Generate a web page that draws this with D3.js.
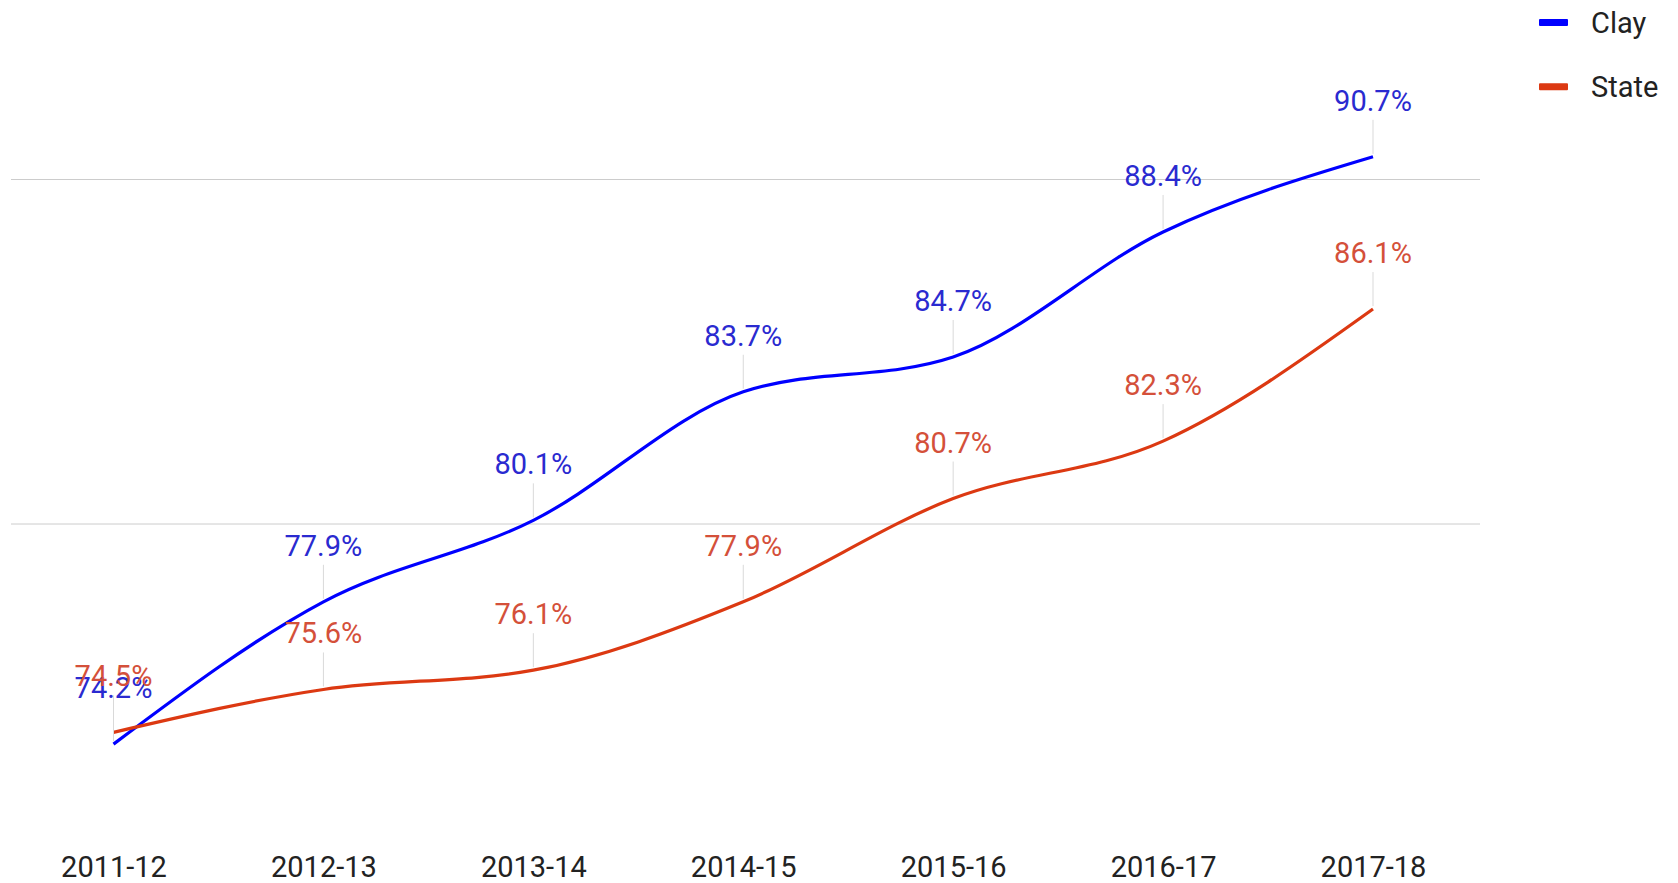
<!DOCTYPE html>
<html>
<head>
<meta charset="utf-8">
<script src="https://cdn.jsdelivr.net/npm/d3@7/dist/d3.min.js"></script>
<style>
  html, body { margin: 0; padding: 0; background: #fff; }
  svg { display: block; font-family: Roboto, "Noto Sans", sans-serif; }
</style>
</head>
<body>
<svg id="chart" width="1678" height="883"></svg>
<script>
const categories = ["2011-12", "2012-13", "2013-14", "2014-15", "2015-16", "2016-17", "2017-18"];
const clayValues = [74.2, 77.9, 80.1, 83.7, 84.7, 88.4, 90.7];
const stateValues = [74.5, 75.6, 76.1, 77.9, 80.7, 82.3, 86.1];
const seriesNames = ["Clay", "State"];
const seriesColors = ["#0000ff", "#dc3912"];
const labelColors = ["#2a2ad0", "#d4503a"];
const gridTicks = [80, 90];

const series = [
  { name: seriesNames[0], values: clayValues, color: seriesColors[0], label: labelColors[0] },
  { name: seriesNames[1], values: stateValues, color: seriesColors[1], label: labelColors[1] }
];

const svg = d3.select("#chart");

const x = d3.scalePoint().domain(categories).range([113.5, 1373]);
const y = d3.scaleLog().domain([80, 90]).range([524, 179.5]);

// gridlines
svg.append("g").selectAll("line").data(gridTicks).join("line")
  .attr("x1", 11).attr("x2", 1480)
  .attr("y1", d => y(d)).attr("y2", d => y(d))
  .attr("stroke", "#cccccc").attr("stroke-width", 1);

// x axis labels
const xAxis = d3.axisBottom(x).tickSize(0).tickPadding(0);
const gx = svg.append("g").attr("transform", "translate(0,856)").call(xAxis);
gx.select(".domain").remove();
gx.selectAll("text")
  .attr("dy", "0.71em")
  .attr("font-size", 29)
  .attr("font-family", "Roboto, sans-serif")
  .attr("fill", "#222222");

const line = d3.line()
  .x((d, i) => x(categories[i]))
  .y(d => y(d))
  .curve(d3.curveMonotoneX);

// lines
series.forEach(s => {
  svg.append("path")
    .datum(s.values)
    .attr("fill", "none")
    .attr("stroke", s.color)
    .attr("stroke-width", 3.2)
    .attr("stroke-linejoin", "round")
    .attr("d", line);
});

// annotations (leader + label)
series.forEach(s => {
  const g = svg.append("g");
  g.selectAll("line").data(s.values).join("line")
    .attr("x1", (d, i) => x(categories[i])).attr("x2", (d, i) => x(categories[i]))
    .attr("y1", d => y(d) - 37).attr("y2", d => y(d) - 3)
    .attr("stroke", "#d9d9d9").attr("stroke-width", 1);
  g.selectAll("text").data(s.values).join("text")
    .attr("x", (d, i) => x(categories[i]))
    .attr("y", d => y(d) - 46)
    .attr("text-anchor", "middle")
    .attr("font-size", 29)
    .attr("fill", s.label)
    .text(d => d.toFixed(1) + "%");
});

// legend
const legend = svg.append("g");
series.forEach((s, i) => {
  const cy = 22.5 + i * 64.2;
  legend.append("rect")
    .attr("x", 1539).attr("y", cy - 3.5)
    .attr("width", 29).attr("height", 7).attr("rx", 1)
    .attr("fill", s.color);
  legend.append("text")
    .attr("x", 1591).attr("y", cy)
    .attr("dy", "0.355em")
    .attr("font-size", 29)
    .attr("fill", "#222222")
    .text(s.name);
});
</script>
</body>
</html>
